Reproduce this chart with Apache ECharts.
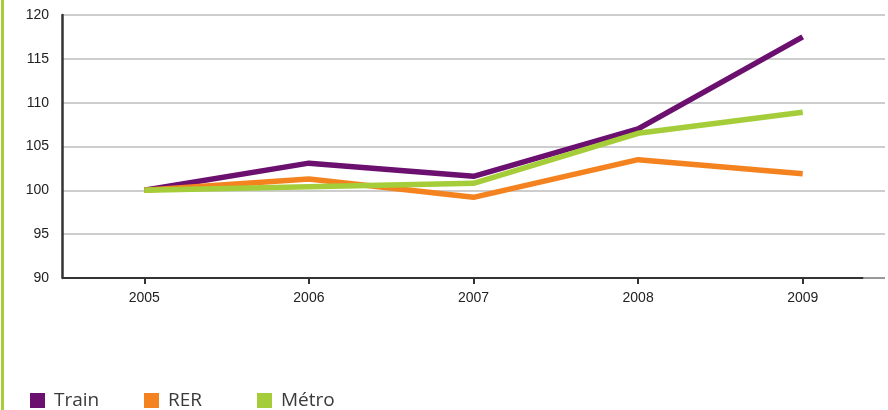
<!DOCTYPE html>
<html>
<head>
<meta charset="utf-8">
<script src="https://cdn.jsdelivr.net/npm/echarts@6/dist/echarts.min.js"></script>
<style>
  html,body{margin:0;padding:0;background:#fff;}
  #chart{width:888px;height:410px;}
</style>
</head>
<body>
<div id="chart"></div>
<script>
var years = [2005, 2006, 2007, 2008, 2009];
var train = [100, 103.1, 101.6, 107.0, 117.5];
var rer = [100, 101.3, 99.2, 103.5, 101.9];
var metro = [100, 100.4, 100.8, 106.5, 108.9];
var seriesNames = ['Train', 'RER', 'Métro'];
var seriesColors = ['#6c1070', '#f4831f', '#a5cd39'];

function pairs(vals) {
  return years.map(function (y, i) { return [y, vals[i]]; });
}

var chart = echarts.init(document.getElementById('chart'));
var lines = [train, rer, metro].map(function (vals, i) {
  return {
    name: seriesNames[i],
    type: 'line',
    data: pairs(vals),
    symbol: 'none',
    color: seriesColors[i],
    lineStyle: { width: 5.5, color: seriesColors[i] },
    z: 3 + i
  };
});
// x baseline: dark up to ~2009.37, then grey to the edge
lines[0].markLine = {
  silent: true,
  symbol: 'none',
  label: { show: false },
  data: [
    [{ coord: [2004.5, 90], lineStyle: { color: '#333', width: 2, type: 'solid' } },
     { coord: [2009.37, 90] }],
    [{ coord: [2009.37, 90], lineStyle: { color: '#999', width: 2, type: 'solid' } },
     { coord: [2009.5, 90] }]
  ]
};

function legendFor(i, left) {
  return {
    left: left, top: 386,
    icon: 'rect', itemWidth: 15, itemHeight: 15, itemGap: 0,
    data: [seriesNames[i]],
    textStyle: { fontFamily: 'Open Sans', fontSize: 19, color: '#3a3a3a', padding: [0, 0, 0, 4] }
  };
}

chart.setOption({
  animation: false,
  graphic: [{
    type: 'rect', left: 1, top: 0,
    shape: { width: 3, height: 410 },
    style: { fill: '#a5cd39' }
  }],
  legend: [legendFor(0, 25), legendFor(1, 139), legendFor(2, 252)],
  grid: { left: 62, right: 3, top: 15, bottom: 132 },
  xAxis: {
    type: 'value',
    min: 2004.5,
    max: 2009.5,
    axisLine: { show: false },
    splitLine: { show: false },
    axisTick: {
      show: true, length: 6, customValues: years,
      lineStyle: { color: '#333', width: 2 }
    },
    axisLabel: {
      customValues: years, margin: 13,
      fontFamily: 'Liberation Sans', fontSize: 14, color: '#222',
      formatter: function (v) { return String(v); }
    }
  },
  yAxis: {
    type: 'value',
    min: 90, max: 120, interval: 5,
    axisLine: { show: true, lineStyle: { color: '#333', width: 2.5 } },
    axisTick: { show: false },
    splitLine: { show: true, lineStyle: { color: '#bdbdbd', width: 1.5 } },
    axisLabel: { margin: 13, fontFamily: 'Liberation Sans', fontSize: 14, color: '#222' }
  },
  series: lines
});
</script>
</body>
</html>
